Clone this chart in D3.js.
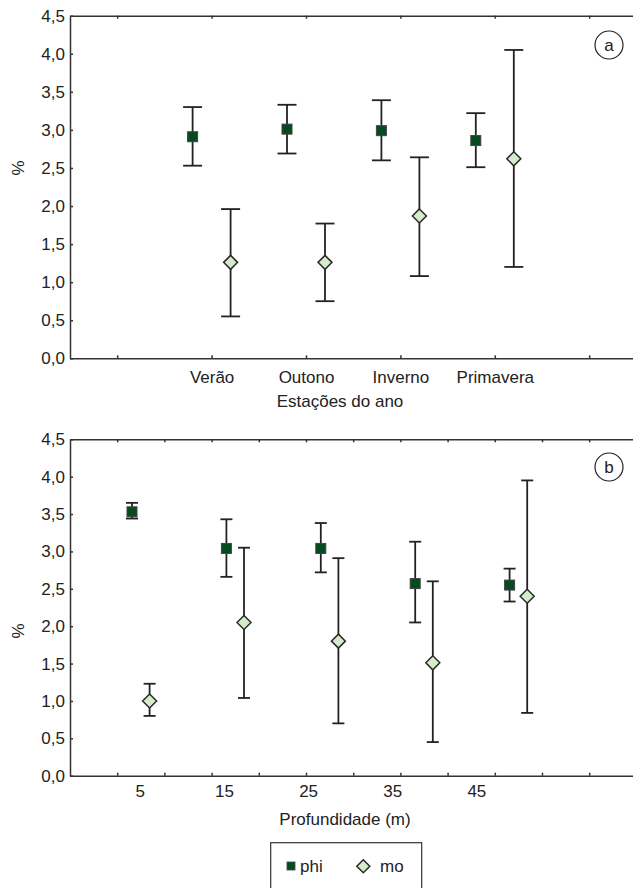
<!DOCTYPE html>
<html>
<head>
<meta charset="utf-8">
<script src="https://cdn.jsdelivr.net/npm/d3@7"></script>
<style>
  body { margin: 0; background: #fff; }
  svg { display: block; }
  text { font-family: "Liberation Sans", Arial, sans-serif; fill: #222; }
</style>
</head>
<body>
<script>
// data
var seasons = ["Verão", "Outono", "Inverno", "Primavera"];
var phiSeason   = [2.91, 3.01, 2.99, 2.86];
var phiSeasonLo = [2.53, 2.69, 2.60, 2.51];
var phiSeasonHi = [3.30, 3.33, 3.39, 3.22];
var moSeason    = [1.26, 1.26, 1.87, 2.62];
var moSeasonLo  = [0.55, 0.75, 1.08, 1.20];
var moSeasonHi  = [1.96, 1.77, 2.64, 4.05];

var depths = [5, 15, 25, 35, 45];
var phiDepth   = [3.53, 3.04, 3.04, 2.57, 2.55];
var phiDepthLo = [3.44, 2.66, 2.72, 2.05, 2.33];
var phiDepthHi = [3.65, 3.43, 3.38, 3.13, 2.77];
var moDepth    = [1.00, 2.05, 1.80, 1.51, 2.40];
var moDepthLo  = [0.80, 1.04, 0.70, 0.45, 0.84];
var moDepthHi  = [1.23, 3.05, 2.91, 2.60, 3.95];

var yTicks = [0, 0.5, 1, 1.5, 2, 2.5, 3, 3.5, 4, 4.5];
var seriesNames = ["phi", "mo"];

var W = 633, H = 888;
var phiFill = "#064a1f", moFill = "#d5eccb", ink = "#222";
var fmt = function(d){ return d3.format(".1f")(d).replace(".", ","); };

var svg = d3.select("body").append("svg").attr("width", W).attr("height", H);

function makePanel(opt){
    var g = svg.append("g");
    var x = d3.scaleLinear().domain(opt.xDomain).range([70, 636.4]);
    var y = d3.scaleLinear().domain([0, 4.5]).range([opt.bottom, opt.top]);

    // left axis, ticks inward
    var ya = g.append("g").attr("transform", "translate(70,0)")
        .call(d3.axisLeft(y).tickValues(yTicks).tickSize(-3).tickSizeOuter(0).tickPadding(5).tickFormat(fmt));
    // bottom axis
    var xa = g.append("g").attr("transform", "translate(0," + opt.bottom + ")")
        .call(d3.axisBottom(x).tickValues(opt.xTicks).tickSize(-3).tickSizeOuter(0).tickPadding(13).tickFormat(opt.xFormat));
    // top frame
    var ta = g.append("g").attr("transform", "translate(0," + opt.top + ")")
        .call(d3.axisTop(x).tickValues(opt.xTicks).tickSize(-3).tickSizeOuter(0).tickFormat(""));
    [ya, xa, ta].forEach(function(a){
        a.selectAll("path, line").attr("stroke", "#333").attr("stroke-width", 1.5);
        a.selectAll("text").attr("font-size", 17).attr("fill", ink).style("font-family", "'Liberation Sans', Arial, sans-serif");
    });

    // y title
    g.append("text").attr("transform", "translate(18," + opt.yTitleY + ") rotate(-90)")
        .attr("text-anchor", "middle").attr("dy", "0.35em").attr("font-size", 17).text("%");
    // x title
    g.append("text").attr("x", opt.xTitleX).attr("y", opt.xTitleY)
        .attr("text-anchor", "middle").attr("font-size", 17).text(opt.xTitle);

    // panel tag
    g.append("circle").attr("cx", 609).attr("cy", opt.tagY).attr("r", 14)
        .attr("fill", "none").attr("stroke", ink).attr("stroke-width", 1.2);
    g.append("text").attr("x", 609).attr("y", opt.tagY).attr("dy", "0.35em")
        .attr("text-anchor", "middle").attr("font-size", 17).text(opt.tag);

    var series = [
        {name: "phi", v: opt.phi, lo: opt.phiLo, hi: opt.phiHi, off: -opt.offset},
        {name: "mo",  v: opt.mo,  lo: opt.moLo,  hi: opt.moHi,  off:  opt.offset}
    ];
    series.forEach(function(s){
        var pts = s.v.map(function(v, i){
            return {cx: x(opt.xPos(i)) + s.off, v: v, lo: s.lo[i], hi: s.hi[i]};
        });
        var eg = g.append("g").attr("stroke", ink).attr("stroke-width", 1.8);
        eg.selectAll(".stem").data(pts).enter().append("line")
            .attr("x1", function(d){ return d.cx; }).attr("x2", function(d){ return d.cx; })
            .attr("y1", function(d){ return y(d.lo); }).attr("y2", function(d){ return y(d.hi); });
        ["lo", "hi"].forEach(function(k){
            eg.selectAll(".cap" + k).data(pts).enter().append("line")
                .attr("x1", function(d){ return d.cx - opt.cap; }).attr("x2", function(d){ return d.cx + opt.cap; })
                .attr("y1", function(d){ return y(d[k]); }).attr("y2", function(d){ return y(d[k]); });
        });
        if (s.name === "phi") {
            g.selectAll(".phi" + opt.tag).data(pts).enter().append("rect")
                .attr("x", function(d){ return d.cx - 5; }).attr("y", function(d){ return y(d.v) - 5; })
                .attr("width", 10).attr("height", 10)
                .attr("fill", phiFill).attr("stroke", "#444").attr("stroke-width", 1);
        } else {
            g.selectAll(".mo" + opt.tag).data(pts).enter().append("path")
                .attr("d", function(d){ var cy = y(d.v), r = 7;
                    return "M" + d.cx + "," + (cy - r) + "L" + (d.cx + r) + "," + cy + "L" + d.cx + "," + (cy + r) + "L" + (d.cx - r) + "," + cy + "Z"; })
                .attr("fill", moFill).attr("stroke", "#2a2a2a").attr("stroke-width", 1.5);
        }
    });
    return {x: x, y: y, g: g};
}

// panel a: seasons
makePanel({
    top: 15.7, bottom: 358.3, xDomain: [-0.5, 5.5], xTicks: [0, 1, 2, 3, 4, 5],
    xFormat: function(i){ return seasons[i - 1] || ""; },
    xPos: function(i){ return i + 1; }, offset: 19, cap: 9.5,
    phi: phiSeason, phiLo: phiSeasonLo, phiHi: phiSeasonHi,
    mo: moSeason, moLo: moSeasonLo, moHi: moSeasonHi,
    yTitleY: 168, xTitle: "Estações do ano", xTitleX: 340, xTitleY: 407,
    tag: "a", tagY: 45
});

// panel b: depth
var pb = makePanel({
    top: 439.3, bottom: 775.7, xDomain: [-1, 11], xTicks: d3.range(0, 11),
    xFormat: function(){ return ""; },
    xPos: function(i){ return 0.5 + 2 * i; }, offset: 8.8, cap: 6,
    phi: phiDepth, phiLo: phiDepthLo, phiHi: phiDepthHi,
    mo: moDepth, moLo: moDepthLo, moHi: moDepthHi,
    yTitleY: 631, xTitle: "Profundidade (m)", xTitleX: 345, xTitleY: 825,
    tag: "b", tagY: 467
});
// depth tick labels sit on their own spacing
var depthLabel = d3.scaleLinear().domain([5, 45]).range([pb.x(0.49), pb.x(7.62)]);
pb.g.selectAll(".dl").data(depths).enter().append("text")
    .attr("x", function(d){ return depthLabel(d); }).attr("y", 796.5)
    .attr("text-anchor", "middle").attr("font-size", 17).text(function(d){ return d; });

// legend
var lg = svg.append("g");
lg.append("rect").attr("x", 270.7).attr("y", 842.7).attr("width", 151).attr("height", 60)
    .attr("fill", "#fff").attr("stroke", "#333").attr("stroke-width", 1.2);
lg.append("rect").attr("x", 287).attr("y", 862).attr("width", 8).attr("height", 8)
    .attr("fill", phiFill).attr("stroke", "#444").attr("stroke-width", 0.8);
lg.append("text").attr("x", 300).attr("y", 866).attr("dy", "0.35em").attr("font-size", 17).text(seriesNames[0]);
lg.append("path").attr("d", "M363.3,859.8L369.8,866.3L363.3,872.8L356.8,866.3Z")
    .attr("fill", moFill).attr("stroke", "#2a2a2a").attr("stroke-width", 1.5);
lg.append("text").attr("x", 380).attr("y", 866).attr("dy", "0.35em").attr("font-size", 17).text(seriesNames[1]);
</script>
</body>
</html>
